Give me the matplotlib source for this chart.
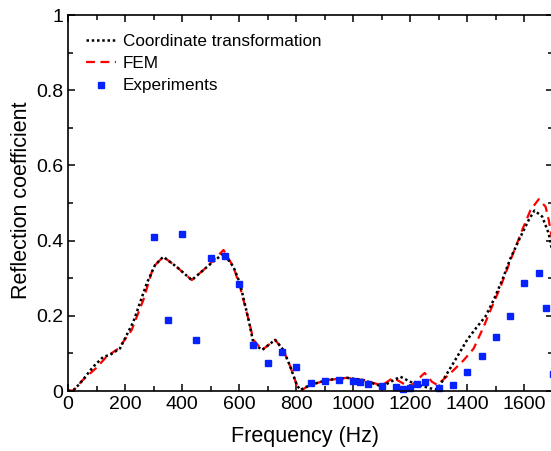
import matplotlib
matplotlib.use("Agg")
from matplotlib import pyplot as plt
plt.rcParams['font.family'] = ['Liberation Sans', 'DejaVu Sans']

# coordinate transformation curve (black dotted)
ct_freq = [0, 20, 42, 89, 124, 147, 182, 229, 276, 305, 334, 381, 434, 487, 545, 580, 603,
           633, 650, 680, 726, 755, 779, 802, 814, 849, 908, 978, 1036, 1100, 1165, 1212,
           1270, 1294, 1329, 1364, 1399, 1434, 1463, 1492, 1522, 1551, 1586, 1615, 1635, 1662,
           1685, 1700]
ct_refl = [0, 0.003, 0.02, 0.065, 0.091, 0.096, 0.113, 0.184, 0.286, 0.335, 0.357, 0.33, 0.295,
           0.33, 0.366, 0.33, 0.286, 0.189, 0.127, 0.109, 0.136, 0.109, 0.065, 0.016, 0.003,
           0.016, 0.029, 0.035, 0.029, 0.012, 0.038, 0.02, 0.007, 0.004, 0.047, 0.091, 0.136,
           0.171, 0.198, 0.242, 0.295, 0.353, 0.41, 0.455, 0.48, 0.464, 0.419, 0.36]

# FEM curve (red dashed)
fem_freq = [0, 20, 50, 100, 136, 177, 223, 264, 299, 334, 381, 434, 487, 545, 580, 603, 633,
            650, 680, 726, 755, 779, 802, 820, 849, 908, 978, 1036, 1100, 1140, 1175, 1200,
            1225, 1250, 1275, 1294, 1340, 1387, 1422, 1457, 1481, 1516, 1551, 1592, 1621, 1650,
            1674, 1685, 1700]
fem_refl = [0, 0.002, 0.028, 0.062, 0.092, 0.113, 0.162, 0.242, 0.33, 0.357, 0.33, 0.295,
            0.33, 0.375, 0.33, 0.277, 0.189, 0.136, 0.109, 0.136, 0.109, 0.065, 0.016, 0.003,
            0.016, 0.029, 0.035, 0.029, 0.015, 0.035, 0.02, 0.012, 0.03, 0.048, 0.025, 0.016,
            0.047, 0.082, 0.113, 0.171, 0.215, 0.277, 0.348, 0.428, 0.481, 0.51, 0.49, 0.455,
            0.39]

# measured points (blue squares)
exp_freq = [300, 350, 400, 450, 500, 550, 600, 650, 700, 750, 800, 850, 900, 950, 1000, 1025,
            1050, 1100, 1150, 1175, 1200, 1225, 1250, 1300, 1350, 1400, 1450, 1500, 1550, 1600,
            1650, 1675, 1700]
exp_refl = [0.41, 0.19, 0.418, 0.135, 0.353, 0.358, 0.285, 0.123, 0.075, 0.105, 0.065, 0.022,
            0.027, 0.029, 0.027, 0.025, 0.019, 0.014, 0.01, 0.005, 0.007, 0.018, 0.023, 0.007,
            0.016, 0.05, 0.094, 0.144, 0.2, 0.286, 0.313, 0.222, 0.045]

W, H = 551, 451
fig = plt.figure(figsize=(W/100, H/100), dpi=100)
# right edge sits just past the picture, like the cropped original
ax = fig.add_axes([68/W, 60/H, (553-68)/W, 376/H])

l_fem, = ax.plot(fem_freq, fem_refl, color="red", lw=1.6, ls=(0, (4, 2.5)), label="FEM")
l_ct, = ax.plot(ct_freq, ct_refl, color="black", lw=1.8, ls=(0, (1, 1.1)),
                label="Coordinate transformation")
l_exp, = ax.plot(exp_freq, exp_refl, ls="none", marker="s", ms=5, color="#0622ff",
                 mec="#0622ff", label="Experiments", clip_on=False)

ax.set_xlim(0, 1700)
ax.set_ylim(0, 1)
ax.set_xticks(range(0, 1700, 200))
ax.set_xticks(range(0, 1701, 100), minor=True)
ax.set_yticks([0, 0.2, 0.4, 0.6, 0.8, 1])
ax.set_yticklabels(["0", "0.2", "0.4", "0.6", "0.8", "1"])
ax.set_yticks([0.1, 0.3, 0.5, 0.7, 0.9], minor=True)
ax.tick_params(which="both", direction="in", top=True, right=True, width=1.1, labelsize=14)
ax.tick_params(which="major", length=5)
ax.tick_params(which="minor", length=3.5)
for s in ax.spines.values():
    s.set_linewidth(1.2)

ax.set_xlabel("Frequency (Hz)", fontsize=15.5)
ax.set_ylabel("Reflection coefficient", fontsize=15.5)
ax.xaxis.set_label_coords(0.489, -0.093)
ax.yaxis.set_label_coords(-0.074, 0.507)

ax.legend(handles=[l_ct, l_fem, l_exp], loc="upper left", frameon=False, fontsize=12.3,
          handlelength=1.75, handletextpad=0.4, labelspacing=0.42,
          bbox_to_anchor=(0.005, 0.99), borderaxespad=0.5)

plt.savefig("out.png", dpi=100)
